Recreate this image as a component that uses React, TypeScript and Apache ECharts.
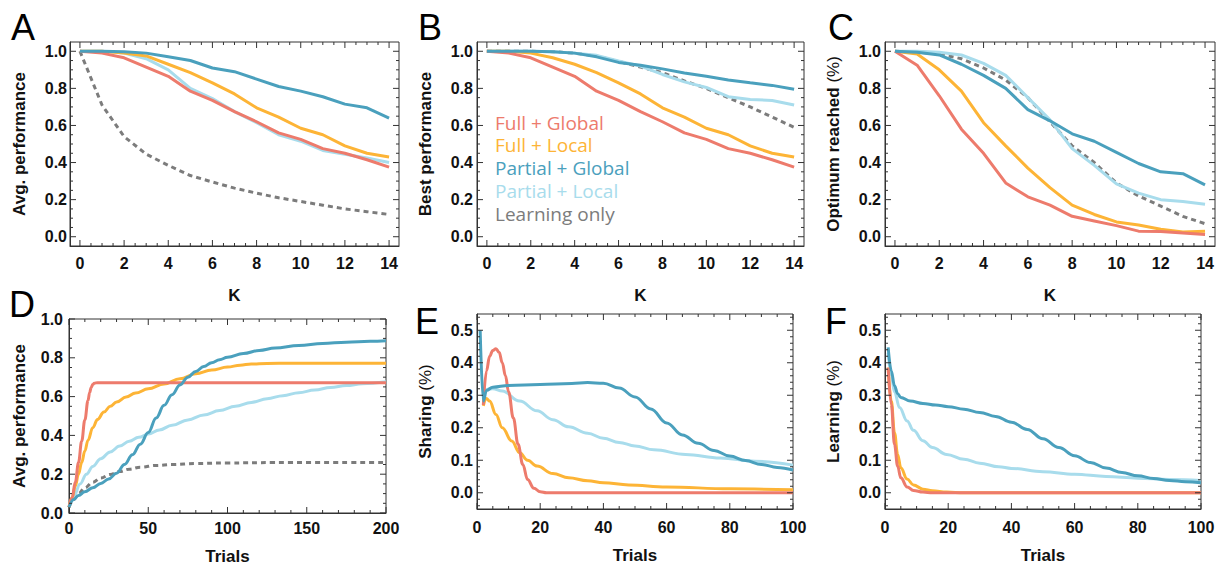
import React, { useEffect, useRef } from "react";
import * as echarts from "echarts";

// ---------- data ----------
const K = [0, 1, 2, 3, 4, 5, 6, 7, 8, 9, 10, 11, 12, 13, 14];

// Panel A: Avg. performance vs K
const aFullGlobal = [1.0, 0.99, 0.965, 0.915, 0.865, 0.785, 0.735, 0.675, 0.62, 0.56, 0.525, 0.475, 0.45, 0.415, 0.375];
const aFullLocal = [1.0, 1.0, 0.99, 0.975, 0.93, 0.885, 0.83, 0.77, 0.695, 0.645, 0.585, 0.55, 0.49, 0.45, 0.43];
const aPartialGlobal = [1.0, 1.0, 0.998, 0.99, 0.97, 0.95, 0.91, 0.89, 0.85, 0.81, 0.785, 0.755, 0.715, 0.695, 0.64];
const aPartialLocal = [1.0, 1.0, 0.99, 0.96, 0.9, 0.8, 0.745, 0.675, 0.615, 0.55, 0.515, 0.465, 0.445, 0.425, 0.4];
const aLearning = [1.0, 0.71, 0.54, 0.445, 0.385, 0.33, 0.295, 0.262, 0.235, 0.21, 0.19, 0.17, 0.15, 0.135, 0.12];

// Panel B: Best performance vs K
const bFullGlobal = [1.0, 0.99, 0.965, 0.915, 0.865, 0.785, 0.735, 0.675, 0.62, 0.56, 0.525, 0.475, 0.45, 0.415, 0.375];
const bFullLocal = [1.0, 1.0, 0.99, 0.965, 0.93, 0.885, 0.83, 0.77, 0.695, 0.645, 0.585, 0.55, 0.49, 0.45, 0.43];
const bPartialGlobal = [1.0, 1.0, 1.0, 0.997, 0.99, 0.97, 0.94, 0.925, 0.905, 0.883, 0.865, 0.845, 0.83, 0.816, 0.795];
const bPartialLocal = [1.0, 1.0, 1.0, 0.998, 0.99, 0.978, 0.948, 0.92, 0.875, 0.835, 0.805, 0.755, 0.74, 0.735, 0.71];
const bLearning = [1.0, 1.0, 1.0, 0.998, 0.99, 0.975, 0.945, 0.915, 0.885, 0.84, 0.8, 0.75, 0.7, 0.645, 0.59];

// Panel C: Optimum reached vs K
const cFullGlobal = [1.0, 0.925, 0.76, 0.58, 0.45, 0.29, 0.215, 0.17, 0.11, 0.085, 0.06, 0.03, 0.028, 0.02, 0.012];
const cFullLocal = [1.0, 0.985, 0.9, 0.785, 0.615, 0.49, 0.37, 0.265, 0.17, 0.12, 0.08, 0.063, 0.04, 0.025, 0.03];
const cPartialGlobal = [1.0, 0.995, 0.98, 0.93, 0.87, 0.8, 0.685, 0.625, 0.555, 0.515, 0.455, 0.395, 0.35, 0.34, 0.28];
const cPartialLocal = [1.0, 1.0, 0.995, 0.98, 0.935, 0.87, 0.75, 0.63, 0.475, 0.385, 0.285, 0.235, 0.2, 0.19, 0.175];
const cLearning = [1.0, 0.995, 0.985, 0.96, 0.91, 0.845, 0.75, 0.62, 0.49, 0.4, 0.29, 0.22, 0.165, 0.11, 0.07];

// Panel D: Avg. performance vs Trials ([trial, value])
const dFullGlobal = [[0, 0.03], [2, 0.08], [4, 0.16], [6, 0.26], [8, 0.37], [10, 0.48], [12, 0.58], [13, 0.62], [14, 0.647], [15, 0.662], [16, 0.669], [18, 0.672], [40, 0.672], [100, 0.672], [200, 0.672]];
const dFullLocal = [[0, 0.03], [2, 0.08], [4, 0.14], [6, 0.2], [8, 0.26], [10, 0.32], [12, 0.375], [15, 0.44], [18, 0.482], [22, 0.52], [26, 0.55], [30, 0.572], [36, 0.598], [42, 0.618], [50, 0.64], [60, 0.665], [70, 0.692], [80, 0.718], [90, 0.737], [100, 0.752], [108, 0.762], [115, 0.768], [125, 0.771], [140, 0.772], [200, 0.772]];
const dPartialGlobal = [[0, 0.03], [3, 0.07], [6, 0.09], [10, 0.11], [15, 0.13], [20, 0.152], [25, 0.175], [30, 0.205], [35, 0.25], [40, 0.3], [45, 0.355], [50, 0.415], [55, 0.49], [60, 0.555], [65, 0.61], [70, 0.66], [75, 0.7], [80, 0.73], [85, 0.755], [90, 0.775], [95, 0.79], [100, 0.803], [110, 0.822], [120, 0.838], [130, 0.85], [145, 0.864], [160, 0.874], [175, 0.88], [190, 0.885], [200, 0.888]];
const dPartialLocal = [[0, 0.03], [3, 0.085], [7, 0.15], [11, 0.2], [15, 0.24], [20, 0.28], [26, 0.315], [32, 0.345], [38, 0.37], [44, 0.39], [50, 0.407], [57, 0.428], [65, 0.452], [75, 0.48], [85, 0.505], [95, 0.528], [105, 0.55], [115, 0.57], [125, 0.589], [135, 0.605], [145, 0.62], [155, 0.634], [165, 0.647], [175, 0.657], [185, 0.666], [200, 0.676]];
const dLearning = [[0, 0.03], [3, 0.07], [6, 0.1], [10, 0.13], [15, 0.158], [20, 0.18], [26, 0.199], [32, 0.214], [38, 0.226], [45, 0.236], [55, 0.245], [65, 0.25], [80, 0.255], [100, 0.258], [130, 0.26], [200, 0.26]];

// Panel E: Sharing vs Trials
const eFullGlobal = [[2, 0.27], [3, 0.375], [4, 0.42], [5, 0.438], [6, 0.443], [7, 0.432], [8, 0.4], [9, 0.36], [10, 0.31], [11.5, 0.23], [13, 0.149], [14.5, 0.087], [16, 0.041], [18, 0.014], [20, 0.003], [22, 0], [100, 0]];
const eFullLocal = [[2, 0.267], [3, 0.29], [4, 0.282], [6, 0.241], [8, 0.2], [11, 0.159], [13.5, 0.123], [16, 0.1], [19, 0.082], [24, 0.059], [29, 0.046], [35, 0.037], [40, 0.031], [48, 0.024], [60, 0.018], [80, 0.012], [100, 0.009]];
const ePartialGlobal = [[1, 0.5], [2, 0.282], [3, 0.315], [5, 0.325], [10, 0.33], [20, 0.333], [30, 0.336], [35, 0.339], [40, 0.337], [45, 0.322], [50, 0.295], [55, 0.258], [60, 0.215], [65, 0.178], [70, 0.152], [75, 0.13], [80, 0.113], [85, 0.099], [90, 0.087], [95, 0.078], [100, 0.07]];
const ePartialLocal = [[2, 0.29], [3, 0.318], [5, 0.32], [8, 0.313], [13.5, 0.282], [19, 0.252], [24, 0.225], [29, 0.203], [35, 0.183], [40, 0.168], [45, 0.155], [50, 0.144], [56, 0.132], [66, 0.118], [77, 0.107], [88, 0.097], [100, 0.085]];

// Panel F: Learning vs Trials
const fFullGlobal = [[1, 0.385], [2, 0.272], [3, 0.149], [4, 0.082], [5, 0.046], [7, 0.018], [9, 0.007], [12, 0.002], [15, 0], [100, 0]];
const fFullLocal = [[1, 0.385], [2, 0.282], [3, 0.185], [4, 0.118], [5, 0.077], [7, 0.042], [9, 0.024], [12, 0.011], [15, 0.006], [19.5, 0.002], [25, 0], [100, 0]];
const fPartialGlobal = [[1, 0.447], [2, 0.375], [3, 0.329], [4, 0.305], [5, 0.293], [8, 0.282], [12, 0.275], [16, 0.27], [20, 0.265], [25, 0.257], [30, 0.247], [35, 0.235], [40, 0.217], [45, 0.195], [50, 0.166], [55, 0.139], [60, 0.114], [65, 0.093], [70, 0.076], [75, 0.062], [80, 0.052], [85, 0.044], [90, 0.038], [95, 0.034], [100, 0.031]];
const fPartialLocal = [[1, 0.43], [2, 0.36], [3, 0.31], [4.6, 0.262], [7, 0.221], [9, 0.192], [12, 0.16], [15, 0.139], [19.5, 0.118], [25, 0.103], [30, 0.091], [36, 0.08], [40, 0.075], [50, 0.065], [60, 0.057], [70, 0.05], [80, 0.045], [90, 0.041], [100, 0.038]];

// tick values
const kMajor = [0, 2, 4, 6, 8, 10, 12, 14];
const kMinor = [0.5, 1, 1.5, 2.5, 3, 3.5, 4.5, 5, 5.5, 6.5, 7, 7.5, 8.5, 9, 9.5, 10.5, 11, 11.5, 12.5, 13, 13.5];
const unitMajor = [0, 0.2, 0.4, 0.6, 0.8, 1.0];
const unitMinor = [0.05, 0.1, 0.15, 0.25, 0.3, 0.35, 0.45, 0.5, 0.55, 0.65, 0.7, 0.75, 0.85, 0.9, 0.95];
const trials200Major = [0, 50, 100, 150, 200];
const trials200Minor = [10, 20, 30, 40, 60, 70, 80, 90, 110, 120, 130, 140, 160, 170, 180, 190];
const trials100Major = [0, 20, 40, 60, 80, 100];
const trials100Minor = [5, 10, 15, 25, 30, 35, 45, 50, 55, 65, 70, 75, 85, 90, 95];
const shareMajor = [0, 0.1, 0.2, 0.3, 0.4, 0.5];
const shareMinor = [-0.04, -0.02, 0.02, 0.04, 0.06, 0.08, 0.12, 0.14, 0.16, 0.18, 0.22, 0.24, 0.26, 0.28, 0.32, 0.34, 0.36, 0.38, 0.42, 0.44, 0.46, 0.48, 0.52, 0.54];

const NAMES = ["Full + Global", "Full + Local", "Partial + Global", "Partial + Local", "Learning only"];
const COLORS = ["#ED7B6C", "#FDB436", "#4AA0BD", "#A8DCEC", "#7C7C7C"];

// ---------- layout ----------
const FRAME = "#333";
const TICK_FONT = "Liberation Sans";

type Spec = {
  min: number; max: number; major: number[]; minor: number[];
  name: string; nameGap: number; margin: number; fmt: (v: number) => string;
};

const f1 = (v: number) => v.toFixed(1);
const f0 = (v: number) => String(Math.round(v));

function kSeries(arr: number[]) {
  return arr.map((v, i) => [K[i], v]);
}

const GRIDS = [
  { left: 70, top: 42, width: 329, height: 204 },
  { left: 477, top: 42, width: 327, height: 204 },
  { left: 885, top: 42, width: 330, height: 204 },
  { left: 69, top: 319, width: 317, height: 194 },
  { left: 477, top: 314, width: 316, height: 195 },
  { left: 885, top: 314, width: 316, height: 195 },
];

const kX = (): Spec => ({ min: -0.45, max: 14.45, major: kMajor, minor: kMinor, name: "K", nameGap: 41, margin: 9, fmt: f0 });
const uY = (name: string, gap: number, margin: number): Spec => ({ min: -0.05, max: 1.05, major: unitMajor, minor: unitMinor, name, nameGap: gap, margin, fmt: f1 });

const X_SPECS: Spec[] = [
  kX(), kX(), kX(),
  { min: 0, max: 200, major: trials200Major, minor: trials200Minor, name: "Trials", nameGap: 35, margin: 7, fmt: f0 },
  { min: 0, max: 100, major: trials100Major, minor: trials100Minor, name: "Trials", nameGap: 38, margin: 10, fmt: f0 },
  { min: 0, max: 100, major: trials100Major, minor: trials100Minor, name: "Trials", nameGap: 38, margin: 10, fmt: f0 },
];
const Y_SPECS: Spec[] = [
  uY("Avg. performance", 42, 3),
  uY("Best performance", 43, 4),
  uY("Optimum reached (%)", 43, 4),
  { min: 0, max: 1, major: unitMajor, minor: unitMinor, name: "Avg. performance", nameGap: 41, margin: 6, fmt: f1 },
  { min: -0.05, max: 0.55, major: shareMajor, minor: shareMinor, name: "Sharing (%)", nameGap: 43, margin: 4, fmt: f1 },
  { min: -0.05, max: 0.55, major: shareMajor, minor: shareMinor, name: "Learning (%)", nameGap: 43, margin: 4, fmt: f1 },
];

const letter = (t: string, x: number, y: number) => ({
  type: "text", x, y, z: 10,
  style: { text: t, fontFamily: "Liberation Sans", fontSize: 36, fill: "#000", align: "left", verticalAlign: "middle" },
});

// Frame ticks as a broken line series in data units: every tick is a short
// segment starting on the frame and pointing inward (6 px major, 3 px minor).
function tickData(g: number): any[] {
  const xs = X_SPECS[g];
  const ys = Y_SPECS[g];
  const gr = GRIDS[g];
  const xPerPx = (xs.max - xs.min) / gr.width;
  const yPerPx = (ys.max - ys.min) / gr.height;
  const out: any[] = [];
  const addX = (vals: number[], len: number) => {
    vals.forEach((v) => {
      out.push([v, ys.min], [v, ys.min + len * yPerPx], [v, "-"]);
      out.push([v, ys.max], [v, ys.max - len * yPerPx], [v, "-"]);
    });
  };
  const addY = (vals: number[], len: number) => {
    vals.forEach((v) => {
      out.push([xs.min, v], [xs.min + len * xPerPx, v], ["-", v]);
      out.push([xs.max, v], [xs.max - len * xPerPx, v], ["-", v]);
    });
  };
  addX(xs.major, 6);
  addX(xs.minor, 3);
  addY(ys.major, 6);
  addY(ys.minor, 3);
  return out;
}

function buildOption() {
  const labelStyle = { fontFamily: TICK_FONT, fontWeight: "bold", fontSize: 16, color: "#111" };
  const nameStyle = { fontFamily: TICK_FONT, fontWeight: "bold", fontSize: 17, color: "#111" };

  const xAxis = X_SPECS.map((s, g) => ({
    type: "value", gridIndex: g, position: "bottom", min: s.min, max: s.max,
    splitLine: { show: false },
    axisLine: { show: true, onZero: false, lineStyle: { color: FRAME, width: 1 } },
    axisTick: { show: false },
    axisLabel: { show: true, customValues: s.major, margin: s.margin, formatter: s.fmt, ...labelStyle },
    name: s.name, nameLocation: "middle", nameGap: s.nameGap, nameTextStyle: nameStyle,
  }));
  const yAxis = Y_SPECS.map((s, g) => {
    const hasPct = s.name.indexOf(" (%)") >= 0;
    const base = s.name.replace(" (%)", "");
    return {
      type: "value", gridIndex: g, position: "left", min: s.min, max: s.max,
      splitLine: { show: false },
      axisLine: { show: true, onZero: false, lineStyle: { color: FRAME, width: 1 } },
      axisTick: { show: false },
      axisLabel: { show: true, customValues: s.major, margin: s.margin, formatter: s.fmt, ...labelStyle },
      name: hasPct ? base + " {n|(%)}" : s.name,
      nameLocation: "middle", nameGap: s.nameGap, nameRotate: 90,
      nameTextStyle: { ...nameStyle, rich: { n: { ...nameStyle, fontWeight: "normal" } } },
    };
  });

  // draw order: learning, partial local, full local, full global, partial global
  const order = [4, 3, 1, 0, 2];
  const panels: (number[][] | null)[][] = [
    [kSeries(aFullGlobal), kSeries(aFullLocal), kSeries(aPartialGlobal), kSeries(aPartialLocal), kSeries(aLearning)],
    [kSeries(bFullGlobal), kSeries(bFullLocal), kSeries(bPartialGlobal), kSeries(bPartialLocal), kSeries(bLearning)],
    [kSeries(cFullGlobal), kSeries(cFullLocal), kSeries(cPartialGlobal), kSeries(cPartialLocal), kSeries(cLearning)],
    [dFullGlobal, dFullLocal, dPartialGlobal, dPartialLocal, dLearning],
    [eFullGlobal, eFullLocal, ePartialGlobal, ePartialLocal, null],
    [fFullGlobal, fFullLocal, fPartialGlobal, fPartialLocal, null],
  ];

  const series: any[] = [];
  for (let g = 0; g < 6; g++) {
    series.push({
      type: "line",
      name: "frame ticks",
      xAxisIndex: g,
      yAxisIndex: g,
      data: tickData(g),
      showSymbol: false,
      symbol: "none",
      connectNulls: false,
      clip: false,
      silent: true,
      smooth: false,
      color: FRAME,
      lineStyle: { width: 1, color: FRAME, cap: "butt" },
      emphasis: { disabled: true },
      z: 4,
    });
  }

  panels.forEach((p, g) => {
    order.forEach((si) => {
      const data = p[si];
      if (!data) return;
      series.push({
        type: "line",
        name: NAMES[si],
        xAxisIndex: g,
        yAxisIndex: g,
        data,
        showSymbol: false,
        symbol: "none",
        smooth: g >= 3 ? 0.4 : false,
        smoothMonotone: g >= 3 ? "x" : undefined,
        color: COLORS[si],
        lineStyle: { width: 3, color: COLORS[si], type: si === 4 ? [5, 4] : "solid", cap: "butt" },
        emphasis: { disabled: true },
        silent: true,
        z: 3,
      });
    });
  });

  return {
    animation: false,
    backgroundColor: "#fff",
    grid: GRIDS.map((g) => ({ ...g, containLabel: false, show: true, borderColor: FRAME, borderWidth: 1, backgroundColor: "transparent" })),
    xAxis,
    yAxis,
    series,
    legend: {
      show: true,
      orient: "vertical",
      left: 485,
      top: 108,
      icon: "none",
      itemWidth: 0,
      itemHeight: 19,
      itemGap: 3.75,
      selectedMode: false,
      textStyle: { fontFamily: "Open Sans", fontSize: 19, lineHeight: 19 },
      data: NAMES.map((n, i) => ({ name: n, textStyle: { color: COLORS[i], fontFamily: "Open Sans", fontSize: 19, lineHeight: 19 } })),
    },
    graphic: [
      letter("A", 11, 27),
      letter("B", 418, 27),
      letter("C", 828, 27),
      letter("D", 9, 304),
      letter("E", 415, 321),
      letter("F", 825, 321),
    ],
  };
}

export default function App() {
  const ref = useRef<HTMLDivElement>(null);
  useEffect(() => {
    if (!ref.current) return;
    const chart = echarts.init(ref.current, undefined, { renderer: "svg" });
    chart.setOption(buildOption() as any);
    return () => chart.dispose();
  }, []);
  return (
    <div
      ref={ref}
      style={{ position: "fixed", left: 0, top: 0, width: 1218, height: 567, background: "#fff" }}
    />
  );
}
